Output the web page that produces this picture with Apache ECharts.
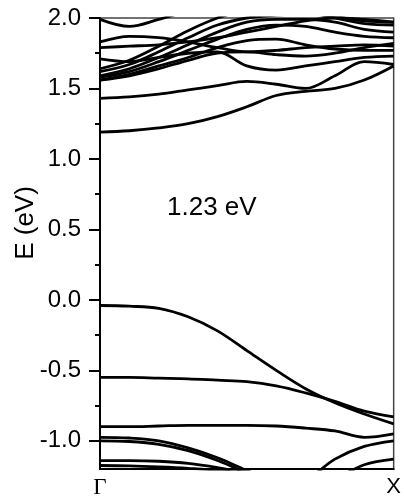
<!DOCTYPE html>
<html>
<head>
<meta charset="utf-8">
<script src="https://cdn.jsdelivr.net/npm/echarts@6/dist/echarts.min.js"></script>
<style>
  html, body { margin: 0; padding: 0; background: #fff; }
  #chart { width: 404px; height: 499px; }
</style>
</head>
<body>
<div id="chart"></div>
<script>
// k-path from Gamma (0) to X (1), sampled every 0.1
const K = [0, 0.1, 0.2, 0.3, 0.4, 0.5, 0.6, 0.7, 0.8, 0.9, 1.0];
const kLabels = ["Γ", "X"];
const yTicks = [-1.0, -0.5, 0.0, 0.5, 1.0, 1.5, 2.0];
const yMinorTicks = [-0.75, -0.25, 0.25, 0.75, 1.25, 1.75];
const gapText = "1.23 eV";

// conduction bands (eV)
const c1 = [1.19, 1.20, 1.22, 1.25, 1.30, 1.37, 1.45, 1.48, 1.50, 1.56, 1.66];
const c2 = [1.43, 1.44, 1.46, 1.49, 1.52, 1.55, 1.53, 1.50, 1.59, 1.69, 1.67];
const c3 = [1.71, 1.69, 1.72, 1.75, 1.76, 1.66, 1.63, 1.66, 1.69, 1.72, 1.73];
const c4 = [1.56, 1.59, 1.64, 1.70, 1.75, 1.76, 1.74, 1.73, 1.75, 1.79, 1.82];
const c5 = [1.56, 1.60, 1.66, 1.72, 1.79, 1.84, 1.85, 1.81, 1.78, 1.77, 1.77];
const c6 = [1.58, 1.62, 1.69, 1.77, 1.85, 1.92, 1.95, 1.94, 1.90, 1.87, 1.86];
const c7 = [1.59, 1.64, 1.72, 1.81, 1.90, 1.97, 1.99, 1.99, 1.97, 1.92, 1.90];
const c8 = [1.62, 1.67, 1.76, 1.86, 1.95, 2.00, 2.02, 2.03, 2.01, 1.98, 1.97];
const c9 = [1.64, 1.70, 1.80, 1.91, 2.00, 2.06, 2.10, 2.10, 2.08, 2.05, 2.03];
const c10 = [1.79, 1.80, 1.81, 1.83, 1.86, 1.90, 1.94, 1.98, 2.00, 1.99, 1.97];
const c11 = [1.83, 1.87, 1.86, 1.83, 1.79, 1.76, 1.77, 1.79, 1.80, 1.81, 1.80];
const c12 = [1.99, 1.94, 1.99, 2.05, 2.10, 2.12, 2.10, 2.05, 2.00, 1.96, 1.95];

// valence bands (eV)
const v1 = [-0.04, -0.045, -0.06, -0.12, -0.22, -0.36, -0.50, -0.63, -0.73, -0.81, -0.88];
const v2 = [-0.55, -0.55, -0.555, -0.56, -0.57, -0.58, -0.61, -0.66, -0.72, -0.79, -0.83];
const v3 = [-0.90, -0.90, -0.895, -0.89, -0.89, -0.89, -0.895, -0.91, -0.93, -0.975, -0.95];
const v4 = [-0.975, -0.98, -1.00, -1.05, -1.12, -1.21, -1.29, -1.27, -1.13, -1.04, -1.00];
const v5 = [-1.00, -1.005, -1.025, -1.07, -1.14, -1.23, -1.32, -1.35, -1.27, -1.17, -1.13];
const v6 = [-1.14, -1.14, -1.145, -1.16, -1.19, -1.23, -1.28, -1.32, -1.34, -1.35, -1.35];
const v7 = [-1.175, -1.178, -1.185, -1.195, -1.21, -1.24, -1.28, -1.30, -1.31, -1.32, -1.32];

const bands = [c1, c2, c3, c4, c5, c6, c7, c8, c9, c10, c11, c12, v1, v2, v3, v4, v5, v6, v7];

const chart = echarts.init(document.getElementById("chart"));

const series = bands.map((b) => ({
  type: "line",
  data: K.map((k, i) => [k, b[i]]),
  showSymbol: false,
  smooth: 0.35,
  clip: true,
  silent: true,
  lineStyle: { color: "#000", width: 2.8 },
}));

chart.setOption({
  animation: false,
  grid: {
    left: 100, right: 2, top: 18, bottom: 26,
    show: true, borderColor: "#444", borderWidth: 1.5,
  },
  xAxis: {
    type: "value",
    min: 0,
    max: 1,
    axisLine: { show: true, onZero: false, lineStyle: { color: "#000", width: 2 } },
    axisTick: { show: false },
    splitLine: { show: false },
    axisLabel: {
      customValues: [0, 1],
      margin: 7,
      formatter: (v) => (v === 0 ? "{g|" + kLabels[0] + "}" : "{x|" + kLabels[1] + "}"),
      rich: {
        g: { fontFamily: "Liberation Serif", fontSize: 23, color: "#000" },
        x: { fontFamily: "Liberation Sans", fontSize: 22, color: "#000" },
      },
    },
  },
  yAxis: [
    {
      type: "value",
      min: -1.2,
      max: 2.0,
      axisLine: { show: true, onZero: false, lineStyle: { color: "#000", width: 2 } },
      axisTick: { show: true, customValues: yTicks, length: 11, lineStyle: { color: "#000", width: 2 } },
      splitLine: { show: false },
      axisLabel: {
        customValues: yTicks,
        margin: 19,
        formatter: (v) => v.toFixed(1),
        fontFamily: "Liberation Sans",
        fontSize: 24,
        color: "#000",
      },
    },
    {
      type: "value",
      min: -1.2,
      max: 2.0,
      position: "left",
      axisLine: { show: false, onZero: false },
      axisTick: { show: true, customValues: yMinorTicks, length: 5, lineStyle: { color: "#000", width: 2 } },
      splitLine: { show: false },
      axisLabel: { show: false },
    },
  ],
  graphic: [
    {
      type: "text",
      x: 26,
      y: 223,
      rotation: Math.PI / 2,
      style: {
        text: "E (eV)",
        fontFamily: "Liberation Sans",
        fontSize: 26,
        fill: "#000",
        align: "center",
        verticalAlign: "middle",
      },
    },
    {
      type: "text",
      x: 167,
      y: 208,
      style: {
        text: gapText,
        fontFamily: "Liberation Sans",
        fontSize: 26,
        fill: "#000",
        align: "left",
        verticalAlign: "middle",
      },
    },
  ],
  series: series,
});
</script>
</body>
</html>
